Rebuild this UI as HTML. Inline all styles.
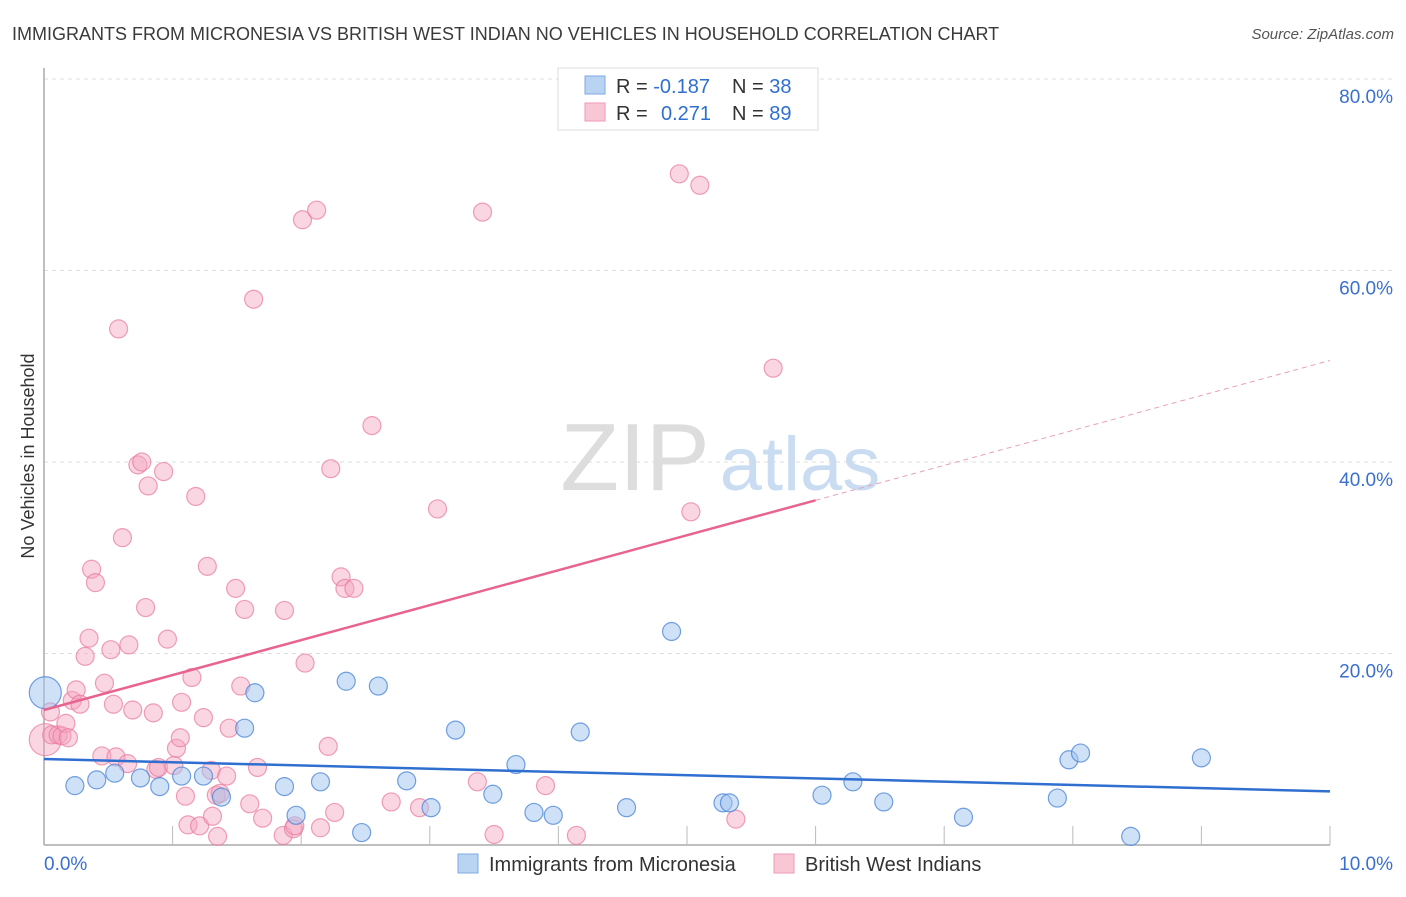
<!DOCTYPE html>
<html><head><meta charset="utf-8"><style>
body{margin:0;background:#fff;font-family:"Liberation Sans",sans-serif;}
svg text{font-family:"Liberation Sans",sans-serif;}
</style></head><body>
<svg id="c" width="1406" height="892" xmlns="http://www.w3.org/2000/svg">
<text x="12" y="40" font-size="18" fill="#3a3a3a">IMMIGRANTS FROM MICRONESIA VS BRITISH WEST INDIAN NO VEHICLES IN HOUSEHOLD CORRELATION CHART</text>
<text x="1394" y="39" font-size="15" fill="#555" text-anchor="end" font-style="italic">Source: ZipAtlas.com</text>
<text transform="translate(34,456) rotate(-90)" font-size="18" fill="#333" text-anchor="middle">No Vehicles in Household</text>
<g>
<text x="635" y="490" font-size="96" fill="#ddd" text-anchor="middle" font-family="Liberation Serif">ZIP</text>
<text x="800" y="490" font-size="76" fill="#c9dcf2" text-anchor="middle">atlas</text>
</g>
<g id="grid"></g><g id="pts"></g><g id="lines"></g>
<g>
<rect x="558" y="68" width="260" height="62" fill="#fff" stroke="#ddd"/>
<rect x="585" y="76" width="20" height="18" fill="#b9d3f3" stroke="#7fa8e0"/>
<rect x="585" y="103" width="20" height="18" fill="#f9c6d5" stroke="#ee9ab4"/>
<text x="616" y="93" font-size="20" fill="#333">R = <tspan fill="#2f6fd0">-0.187</tspan></text>
<text x="732" y="93" font-size="20" fill="#333">N = <tspan fill="#2f6fd0">38</tspan></text>
<text x="616" y="120" font-size="20" fill="#333">R = <tspan fill="#2f6fd0" x="661">0.271</tspan></text>
<text x="732" y="120" font-size="20" fill="#333">N = <tspan fill="#2f6fd0">89</tspan></text>
</g>
<g>
<rect x="458" y="854" width="20" height="19" fill="#b9d3f3" stroke="#7fa8e0"/>
<text x="489" y="871" font-size="20" fill="#333">Immigrants from Micronesia</text>
<rect x="774" y="854" width="20" height="19" fill="#f9c6d5" stroke="#ee9ab4"/>
<text x="805" y="871" font-size="20" fill="#333">British West Indians</text>
</g>
</svg>
<script>
const xTicks=[0,10];
const yTicks=[20,40,60,80];
const blueX=[0.01,0.24,0.41,0.55,0.75,0.90,1.07,1.24,1.38,1.56,1.64,1.87,1.96,2.15,2.35,2.47,2.60,2.82,3.01,3.20,3.49,3.67,3.81,3.96,4.17,4.53,4.88,5.28,5.33,6.05,6.29,6.53,7.15,7.88,7.97,8.06,8.45,9.00];
const blueY=[15.9,6.2,6.8,7.5,7.0,6.1,7.2,7.2,5.0,12.2,15.9,6.1,3.1,6.6,17.1,1.3,16.6,6.7,3.9,12.0,5.3,8.4,3.4,3.1,11.8,3.9,22.3,4.4,4.4,5.2,6.6,4.5,2.9,4.9,8.9,9.6,0.9,9.1];
const pinkX=[0.01,0.05,0.06,0.11,0.14,0.17,0.19,0.22,0.25,0.28,0.32,0.35,0.37,0.40,0.45,0.47,0.52,0.54,0.56,0.58,0.61,0.65,0.66,0.69,0.73,0.76,0.79,0.81,0.85,0.87,0.89,0.93,0.96,1.01,1.03,1.06,1.07,1.10,1.12,1.15,1.18,1.21,1.24,1.27,1.30,1.31,1.34,1.35,1.37,1.42,1.44,1.49,1.53,1.56,1.60,1.63,1.66,1.70,1.86,1.87,1.94,1.95,2.01,2.03,2.12,2.15,2.21,2.23,2.26,2.31,2.34,2.41,2.55,2.70,2.92,3.06,3.37,3.41,3.50,3.90,4.14,4.94,5.03,5.10,5.38,5.67];
const pinkY=[11.0,13.9,11.5,11.5,11.4,12.7,11.2,15.1,16.2,14.7,19.7,21.6,28.8,27.4,9.3,16.9,20.4,14.7,9.2,53.9,32.1,8.5,20.9,14.1,39.7,40.0,24.8,37.5,13.8,7.9,8.1,39.0,21.5,8.3,10.1,11.2,14.9,5.1,2.1,17.5,36.4,2.0,13.3,29.1,7.8,3.0,5.2,0.9,5.4,7.2,12.2,26.8,16.6,24.6,4.3,57.0,8.1,2.8,1.0,24.5,1.7,2.0,65.3,19.0,66.3,1.8,10.3,39.3,3.4,28.0,26.8,26.8,43.8,4.5,3.9,35.1,6.6,66.1,1.1,6.2,1.0,70.1,34.8,68.9,2.7,49.8];
const blueTrend=[8.98,5.6];
const pinkTrend=[14.1,50.6];
const pinkSolidEnd=6.0;
const X=v=>44+v*128.6, Y=v=>845-v*9.575;
const NS="http://www.w3.org/2000/svg";
function mk(t,a,p){const e=document.createElementNS(NS,t);for(const k in a)e.setAttribute(k,a[k]);p.appendChild(e);return e;}
const grid=document.getElementById('grid'),pts=document.getElementById('pts'),lines=document.getElementById('lines');
yTicks.forEach(t=>{
 const l=mk('line',{x1:44,x2:1394,y1:Y(t),y2:Y(t),stroke:'#ddd','stroke-dasharray':'4,4'},grid);
 
 
 const tx=mk('text',{x:1393,y:Y(t)+24,'font-size':19,fill:'#3a6fd0','text-anchor':'end'},grid);tx.textContent=t.toFixed(1)+'%';
 
 
});
mk('line',{x1:44,x2:44,y1:68,y2:845,stroke:'#aaa','stroke-width':1.5},grid);
mk('line',{x1:44,x2:1330,y1:845,y2:845,stroke:'#aaa','stroke-width':1.5},grid);
for(let i=1;i<=10;i++)mk('line',{x1:X(i),x2:X(i),y1:826,y2:845,stroke:'#bbb'},grid);
xTicks.forEach((t,i)=>{
 const tx=mk('text',{x:i?1393:44,y:870,'font-size':19,fill:'#3a6fd0','text-anchor':i?'end':'start'},grid);tx.textContent=t.toFixed(1)+'%';
 
 
});
pinkX.forEach((x,i)=>{
 const c=mk('circle',{cx:X(x),cy:Y(pinkY[i]),r:i==0?16:9,fill:'rgba(244,163,190,0.45)',stroke:'rgba(232,120,158,0.7)','stroke-width':1.2},pts);
 
 
});
blueX.forEach((x,i)=>{
 const c=mk('circle',{cx:X(x),cy:Y(blueY[i]),r:i==0?16:9,fill:'rgba(160,195,238,0.5)',stroke:'rgba(70,130,215,0.75)','stroke-width':1.2},pts);
 
 
});
const b=mk('line',{x1:X(0),y1:Y(blueTrend[0]),x2:X(10),y2:Y(blueTrend[1]),stroke:'#2f6fd0','stroke-width':2.5},lines);


const pm=pinkTrend[0]+(pinkTrend[1]-pinkTrend[0])*pinkSolidEnd/10;
const p1=mk('line',{x1:X(0),y1:Y(pinkTrend[0]),x2:X(pinkSolidEnd),y2:Y(pm),stroke:'#e8648e','stroke-width':2.5},lines);


const p2=mk('line',{x1:X(pinkSolidEnd),y1:Y(pm),x2:X(10),y2:Y(pinkTrend[1]),stroke:'#e8a0b8','stroke-width':1,'stroke-dasharray':'5,4'},lines);


</script>
</body></html>
